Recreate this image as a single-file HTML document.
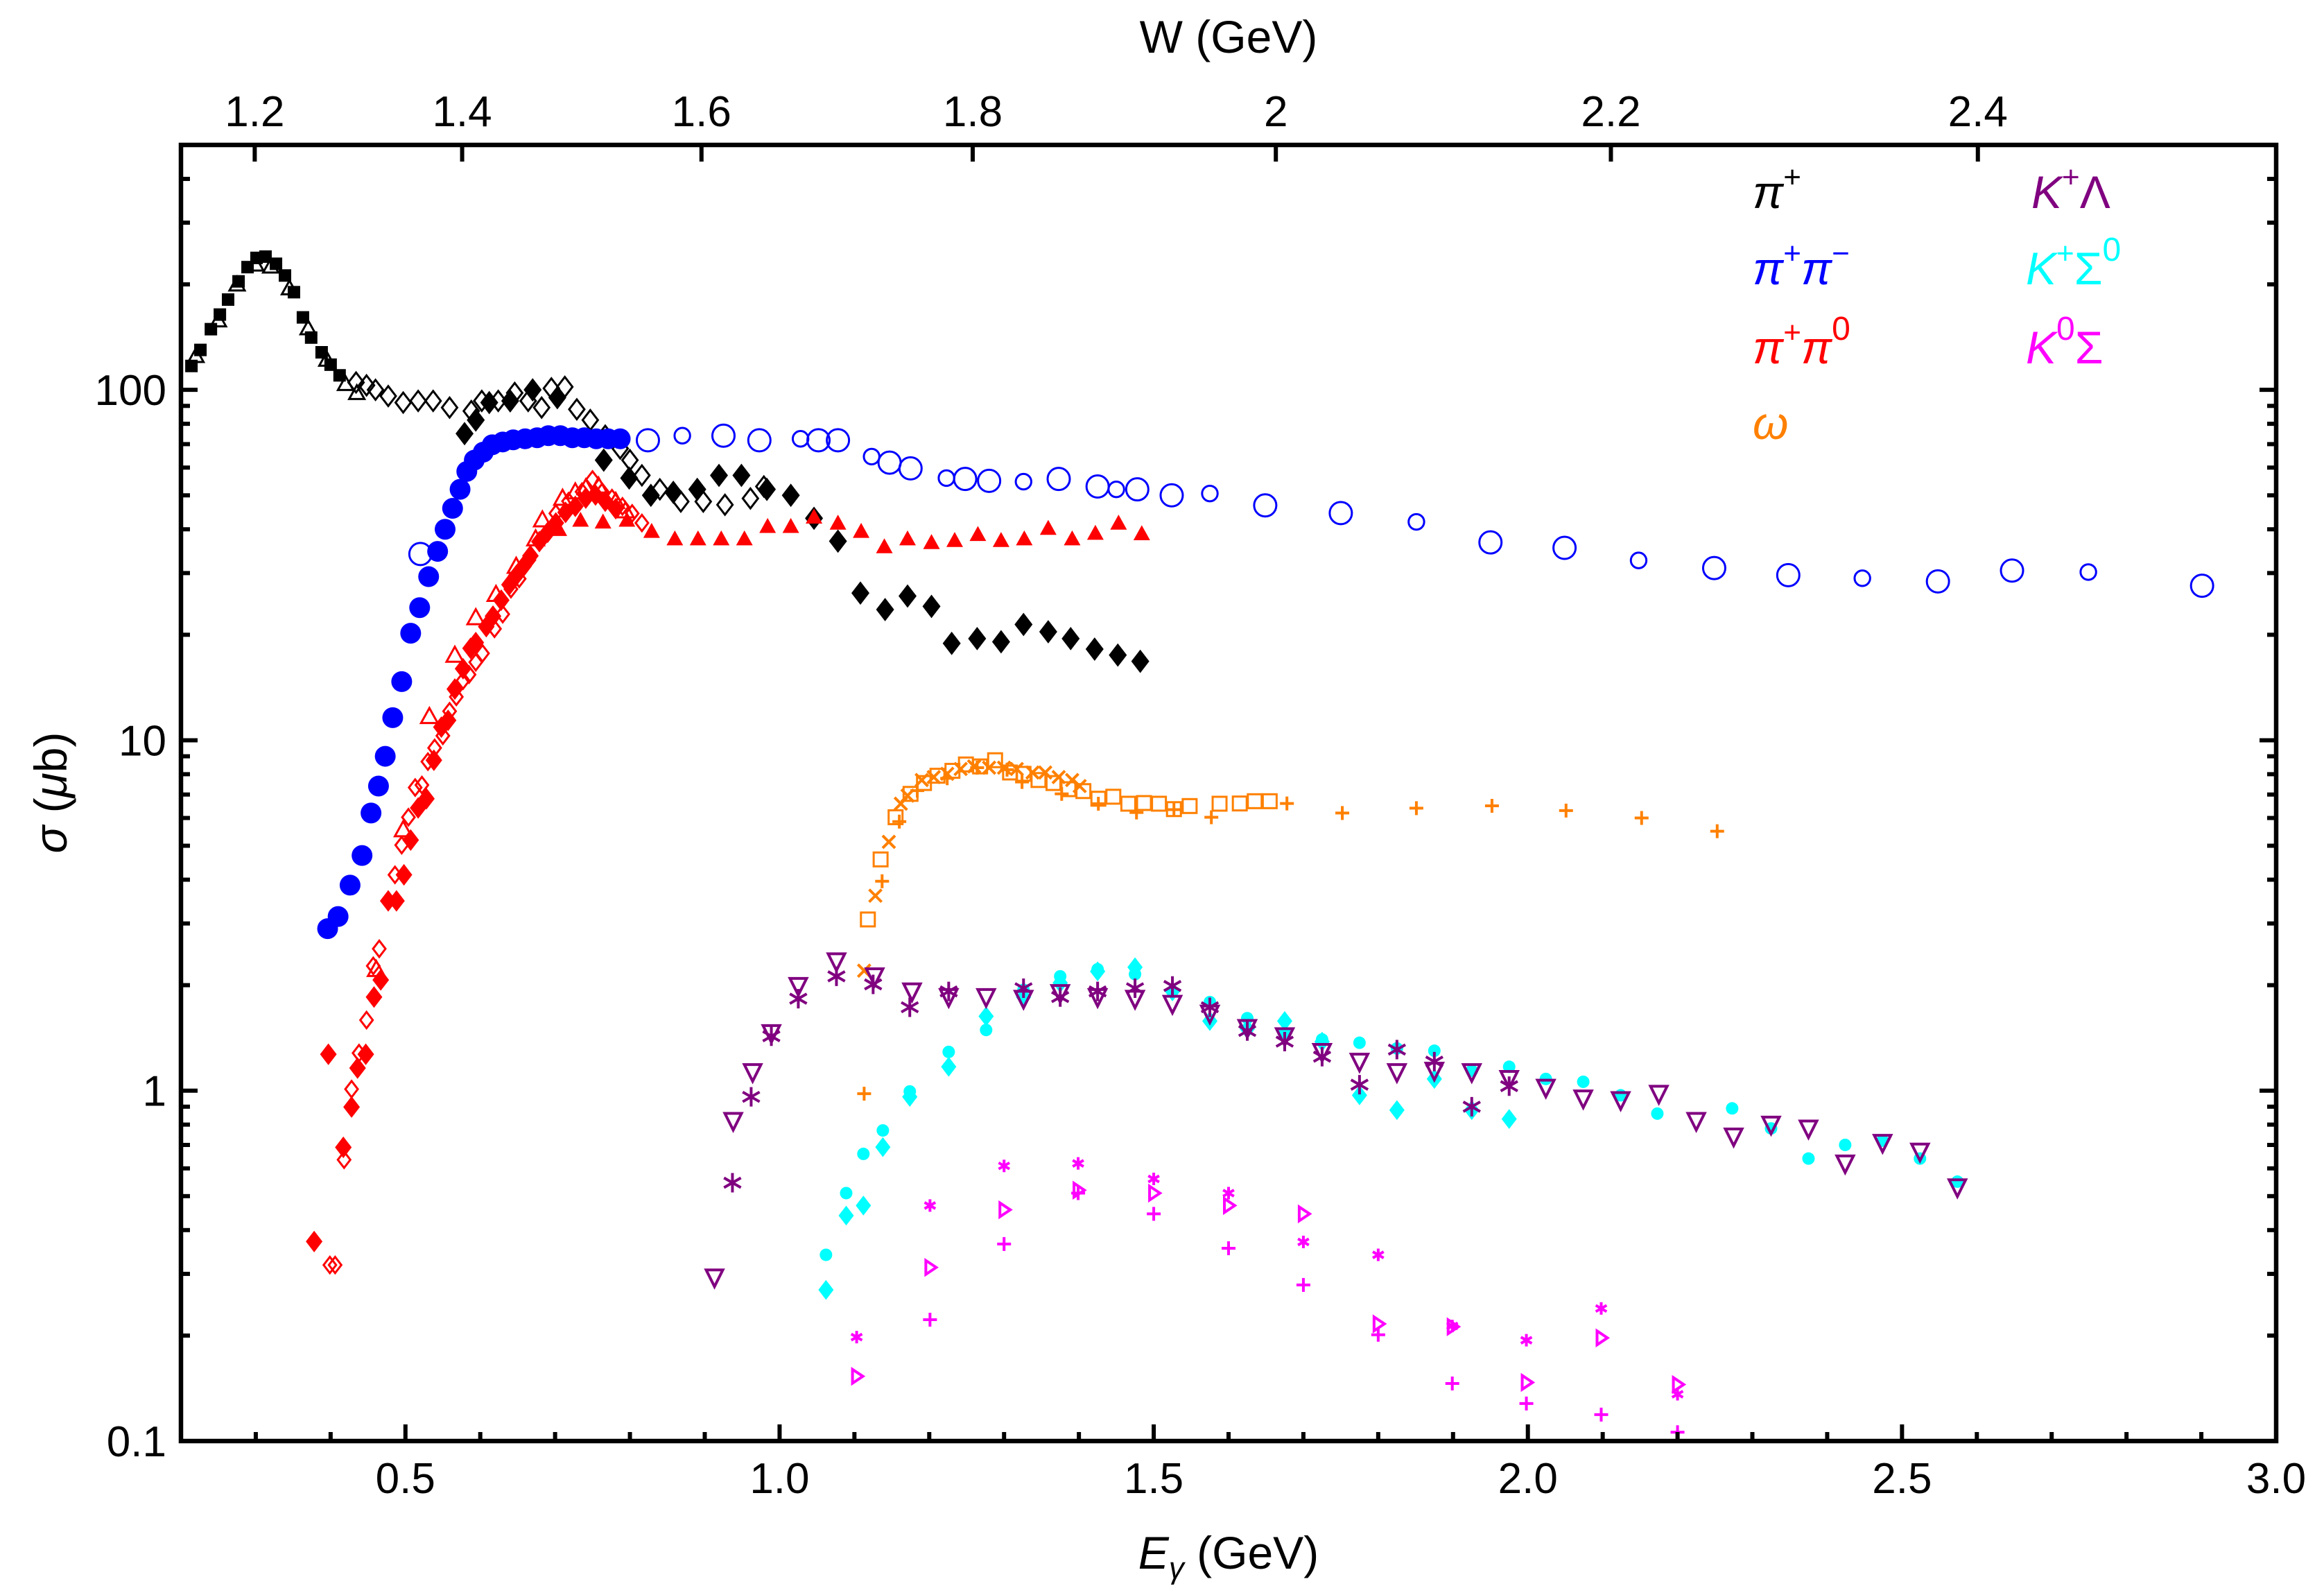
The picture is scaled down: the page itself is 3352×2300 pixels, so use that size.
<!DOCTYPE html>
<html><head><meta charset="utf-8"><style>
html,body{margin:0;padding:0;background:#fff;}
svg{display:block;font-family:"Liberation Sans",sans-serif;}
</style></head>
<body>
<svg id="chart" xmlns="http://www.w3.org/2000/svg" width="3352" height="2300" viewBox="0 0 3352 2300">
<rect x="0" y="0" width="3352" height="2300" fill="#fff"/>
<g id="marks"></g>
<g id="axes"></g>
<g id="legend" font-size="66" font-style="italic">
  <text x="2528" y="300" fill="#000">π<tspan dy="-30" font-size="44" font-style="normal">+</tspan></text>
  <text x="2528" y="410" fill="#0000ff">π<tspan dy="-30" font-size="44" font-style="normal">+</tspan><tspan dy="30">π</tspan><tspan dy="-30" font-size="44" font-style="normal">−</tspan></text>
  <text x="2528" y="524" fill="#ff0000">π<tspan dy="-30" font-size="44" font-style="normal">+</tspan><tspan dy="30">π</tspan><tspan dy="-34" font-size="48" font-style="normal">0</tspan></text>
  <text x="2528" y="633" fill="#ff8000">ω</text>
  <text x="2930" y="300" fill="#800080">K<tspan dy="-30" font-size="44" font-style="normal">+</tspan><tspan dy="30" font-style="normal">Λ</tspan></text>
  <text x="2922" y="410" fill="#00ffff">K<tspan dy="-30" font-size="44" font-style="normal">+</tspan><tspan dy="30" font-style="normal">Σ</tspan><tspan dy="-34" font-size="48" font-style="normal">0</tspan></text>
  <text x="2922" y="524" fill="#ff00ff">K<tspan dy="-34" font-size="48" font-style="normal">0</tspan><tspan dy="34" font-style="normal">Σ</tspan></text>
</g>
<text x="1772" y="2262" font-size="66" text-anchor="middle"><tspan font-style="italic">E</tspan><tspan font-style="italic" font-size="44" dy="14">γ</tspan><tspan dy="-14"> (GeV)</tspan></text>
<text x="1772" y="76" font-size="66" text-anchor="middle">W (GeV)</text>
<text transform="translate(96,1143) rotate(-90)" font-size="66" text-anchor="middle"><tspan font-style="italic">σ</tspan> (<tspan font-style="italic">μ</tspan>b)</text>
</svg>
<script>
// ---------- data ----------
const piPlusSqE = [0.214,0.226,0.240,0.252,0.263,0.277,0.289,0.301,0.313,0.327,0.339,0.351,0.363,0.374,0.388,0.400,0.412];
const piPlusSqS = [117,130,149,164,181,204,224,238,240,229,212,190,161,141,128,118,110];
const piPlusTriE = [0.22,0.25,0.275,0.30,0.32,0.345,0.37,0.395,0.42,0.435];
const piPlusTriS = [125,158,200,228,225,195,150,122,104,98];
const piPlusODiaE = [0.434,0.448,0.460,0.477,0.497,0.517,0.537,0.559,0.588,0.602,0.624,0.646,0.664,0.682,0.695,0.713,0.729,0.747,0.767,0.787,0.800,0.816,0.840,0.868,0.898,0.927,0.961,0.979];
const piPlusODiaS = [105,103,100,96,92,93,93,89,87,93,93,98,93,89,101,102,88,82,74,68,63,57,52,48,48,47,49,53];
const piPlusFDiaE = [0.579,0.594,0.612,0.640,0.670,0.703,0.765,0.799,0.828,0.858,0.890,0.919,0.949,0.983,1.015,1.046,1.078,1.108,1.141,1.171,1.203,1.230,1.264,1.296,1.326,1.359,1.389,1.421,1.452,1.482];
const piPlusFDiaS = [75,82,92,93,100,95,63,56,50,51,52,57,57,52,50,43,37,26.3,23.6,25.8,24.1,18.9,19.5,19.1,21.4,20.4,19.5,18.2,17.5,16.8];

const pipiFCircE = [0.396,0.410,0.426,0.442,0.454,0.464,0.473,0.483,0.495,0.507,0.519,0.531,0.543,0.553,0.563,0.573,0.582,0.592,0.604,0.616,0.630,0.644,0.660,0.676,0.691,0.707,0.723,0.739,0.755,0.771,0.787];
const pipiFCircS = [2.9,3.14,3.86,4.69,6.2,7.4,9.0,11.6,14.7,20.2,23.9,29.3,34.6,40,45.9,52,58.5,63,66.4,69.7,71,72,72.5,73,74,74,73,73,72.5,72.5,72.5];
const pipiOCircE = [0.824,0.870,0.925,0.973,1.028,1.052,1.078,1.123,1.147,1.175,1.223,1.248,1.280,1.326,1.373,1.425,1.450,1.478,1.524,1.575,1.649,1.750,1.851,1.950,2.049,2.148,2.249,2.348,2.447,2.548,2.647,2.749,2.901,0.52];
const pipiOCircS = [71.8,74,74,71.8,72.5,71.8,71.8,64.5,62,59.7,56,55.7,55,54.7,55.7,53,52,52,50,50.6,46.8,44.5,42,36.7,35.4,32.6,31,29.6,29,28.4,30.5,30.2,27.6,34];

const pi0FTriE = [0.705,0.734,0.764,0.796,0.829,0.860,0.891,0.922,0.953,0.984,1.015,1.046,1.078,1.109,1.140,1.171,1.203,1.234,1.265,1.296,1.327,1.359,1.391,1.422,1.453,1.484];
const pi0FTriS = [40.0,42.5,42.0,42.5,39.5,37.6,37.6,37.6,37.6,40.8,40.8,43.4,41.7,39.5,35.7,37.6,36.7,37.2,38.7,37.2,37.6,40.3,37.6,39.0,41.7,38.9];
const pi0FDiaE = [0.378,0.397,0.417,0.428,0.436,0.447,0.458,0.467,0.477,0.488,0.498,0.507,0.517,0.528,0.538,0.548,0.557,0.566,0.577,0.587,0.594,0.608,0.617,0.628,0.639,0.648,0.658,0.667,0.679,0.690,0.701,0.714,0.727,0.741,0.754,0.767,0.781];
const pi0FDiaS = [0.371,1.27,0.689,0.898,1.16,1.27,1.85,2.07,3.48,3.48,4.13,5.19,6.41,6.81,8.77,10.9,11.4,14.0,16.0,18.3,19.0,21.1,22.6,25.1,27.8,29.5,31.4,33.6,36.9,39.2,41.7,44.7,46.5,49.1,50.1,48.1,45.8];
const pi0ODiaE = [0.399,0.406,0.418,0.428,0.438,0.448,0.457,0.465,0.486,0.495,0.504,0.513,0.522,0.530,0.539,0.550,0.559,0.568,0.577,0.585,0.594,0.603,0.619,0.630,0.641,0.652,0.665,0.683,0.701,0.718,0.736,0.750,0.763,0.776,0.790,0.803,0.816];
const pi0ODiaS = [0.318,0.318,0.635,1.01,1.28,1.59,2.27,2.54,4.13,5.02,6.03,7.33,7.45,8.69,9.51,10.3,12.1,13.3,14.8,15.4,16.7,17.7,20.8,22.9,27.0,28.9,32.7,37.6,44.4,48.1,51.2,55.5,51.2,49.1,46.5,44.4,41.7];
const pi0OTriE = [0.461,0.497,0.532,0.566,0.594,0.621,0.648,0.674,0.683,0.710,0.727,0.741,0.758,0.781,0.794];
const pi0OTriS = [2.22,5.56,11.7,17.5,22.4,26.1,31.4,37.6,42.6,49.1,51.2,52.6,53.2,48.1,45.2];

const omegaSqE = [1.118,1.135,1.155,1.175,1.193,1.211,1.231,1.249,1.268,1.288,1.308,1.326,1.346,1.366,1.386,1.406,1.426,1.446,1.466,1.487,1.507,1.527,1.548,1.588,1.615,1.635,1.655];
const omegaSqS = [3.08,4.57,6.03,7.03,7.55,7.92,8.18,8.53,8.42,8.77,8.09,8.02,7.70,7.55,7.25,7.16,6.81,6.90,6.59,6.62,6.59,6.36,6.49,6.59,6.6,6.7,6.7];
const omegaXE = [1.113,1.128,1.146,1.162,1.171,1.190,1.206,1.224,1.242,1.260,1.280,1.300,1.317,1.338,1.355,1.373,1.391,1.401];
const omegaXS = [2.2,3.60,5.13,6.59,6.95,7.70,7.85,8.02,8.28,8.42,8.35,8.35,8.28,8.09,8.09,7.85,7.70,7.40];
const omegaPlusE = [1.113,1.137,1.160,1.184,1.224,1.264,1.304,1.324,1.377,1.426,1.477,1.527,1.577,1.678,1.752,1.851,1.952,2.051,2.152,2.253];
const omegaPlusS = [0.98,3.96,5.86,7.18,7.79,8.35,8.24,7.60,7.03,6.59,6.22,6.34,6.03,6.6,6.2,6.4,6.5,6.3,6.0,5.5];

const klTriE = [0.913,0.938,0.964,0.989,1.025,1.076,1.127,1.177,1.226,1.276,1.326,1.375,1.425,1.475,1.525,1.575,1.625,1.675,1.725,1.775,1.825,1.875,1.925,1.975,2.024,2.074,2.124,2.175,2.225,2.275,2.325,2.375,2.424,2.474,2.524,2.574];
const klTriS = [0.293,0.82,1.13,1.46,1.99,2.34,2.12,1.92,1.85,1.85,1.83,1.90,1.85,1.83,1.77,1.66,1.51,1.43,1.29,1.21,1.13,1.14,1.13,1.08,1.02,0.95,0.94,0.98,0.82,0.74,0.80,0.78,0.62,0.71,0.67,0.53];
const klAstE = [0.937,0.962,0.989,1.025,1.076,1.125,1.174,1.226,1.326,1.375,1.425,1.475,1.525,1.575,1.625,1.675,1.725,1.775,1.825,1.875,1.925,1.975];
const klAstS = [0.546,0.96,1.43,1.83,2.12,2.01,1.73,1.92,1.96,1.85,1.92,1.96,1.99,1.73,1.48,1.38,1.25,1.04,1.31,1.21,0.90,1.03];

const ksCircE = [1.062,1.089,1.112,1.138,1.174,1.226,1.276,1.326,1.375,1.425,1.475,1.525,1.575,1.625,1.675,1.725,1.775,1.825,1.875,1.925,1.975,2.024,2.074,2.124,2.173,2.273,2.325,2.375,2.424,2.474,2.524,2.574];
const ksCircS = [0.340,0.51,0.66,0.77,0.995,1.29,1.49,1.94,2.12,2.22,2.15,1.92,1.79,1.61,1.46,1.40,1.37,1.32,1.30,1.14,1.17,1.08,1.06,0.97,0.86,0.89,0.78,0.64,0.70,0.72,0.64,0.55];
const ksDiaE = [1.062,1.089,1.112,1.138,1.174,1.226,1.276,1.326,1.375,1.425,1.475,1.525,1.575,1.625,1.675,1.725,1.775,1.825,1.875,1.925,1.975];
const ksDiaS = [0.27,0.44,0.47,0.69,0.96,1.17,1.63,1.85,2.03,2.19,2.25,1.92,1.58,1.50,1.58,1.38,0.97,0.88,1.08,0.88,0.83];

const k0StarE = [1.103,1.201,1.300,1.399,1.500,1.600,1.700,1.800,1.899,1.998,2.098,2.200];
const k0StarS = [0.198,0.47,0.61,0.62,0.56,0.51,0.37,0.34,0.213,0.194,0.239,0.136];
const k0RTriE = [1.103,1.201,1.300,1.399,1.500,1.600,1.700,1.800,1.899,1.998,2.098,2.200];
const k0RTriS = [0.153,0.313,0.457,0.52,0.51,0.47,0.445,0.216,0.212,0.147,0.197,0.145];
const k0PlusE = [1.201,1.300,1.399,1.500,1.600,1.700,1.800,1.899,1.998,2.098,2.200];
const k0PlusS = [0.222,0.365,0.51,0.445,0.355,0.279,0.201,0.146,0.128,0.119,0.106];

const xTickVals = [0.5,1.0,1.5,2.0,2.5,3.0];
const xTickLabels = ["0.5","1.0","1.5","2.0","2.5","3.0"];
const yTickVals = [0.1,1,10,100];
const yTickLabels = ["0.1","1","10","100"];
const wTickVals = [1.2,1.4,1.6,1.8,2.0,2.2,2.4];
const wTickLabels = ["1.2","1.4","1.6","1.8","2","2.2","2.4"];

// ---------- scales ----------
const L = 261, R = 3283, T = 209, B = 2078;
const xMin = 0.2, xMax = 3.0, yMin = 0.1, yMax = 500;
const MP = 0.938;
function X(e){ return L + (e - xMin) / (xMax - xMin) * (R - L); }
function Y(s){ return B - (Math.log10(s) - Math.log10(yMin)) / (Math.log10(yMax) - Math.log10(yMin)) * (B - T); }
function EofW(w){ return (w*w - MP*MP) / (2*MP); }

const NS = "http://www.w3.org/2000/svg";
const marks = document.getElementById('marks');
const axes = document.getElementById('axes');
function mk(tag, attrs, parent){
  const el = document.createElementNS(NS, tag);
  for (const k in attrs) el.setAttribute(k, attrs[k]);
  parent.appendChild(el);
  return el;
}

function drawMarker(type, cx, cy, color, s, parent){
  let el;
  const sw = 3;
  if (type === 'fsq') el = mk('rect', {x:cx-s, y:cy-s, width:2*s, height:2*s, fill:color}, parent);
  else if (type === 'osq') el = mk('rect', {x:cx-s, y:cy-s, width:2*s, height:2*s, fill:'none', stroke:color, 'stroke-width':sw}, parent);
  else if (type === 'fcirc') el = mk('circle', {cx:cx, cy:cy, r:s, fill:color}, parent);
  else if (type === 'ocirc') el = mk('circle', {cx:cx, cy:cy, r:s, fill:'none', stroke:color, 'stroke-width':sw}, parent);
  else if (type === 'fdia') el = mk('polygon', {points:`${cx},${cy-s*1.3} ${cx+s},${cy} ${cx},${cy+s*1.3} ${cx-s},${cy}`, fill:color}, parent);
  else if (type === 'odia') el = mk('polygon', {points:`${cx},${cy-s*1.3} ${cx+s},${cy} ${cx},${cy+s*1.3} ${cx-s},${cy}`, fill:'none', stroke:color, 'stroke-width':sw}, parent);
  else if (type === 'ftri') el = mk('polygon', {points:`${cx},${cy-s} ${cx+s},${cy+s*0.8} ${cx-s},${cy+s*0.8}`, fill:color}, parent);
  else if (type === 'otri') el = mk('polygon', {points:`${cx},${cy-s} ${cx+s},${cy+s*0.8} ${cx-s},${cy+s*0.8}`, fill:'none', stroke:color, 'stroke-width':sw}, parent);
  else if (type === 'dtri') el = mk('polygon', {points:`${cx-s},${cy-s*0.9} ${cx+s},${cy-s*0.9} ${cx},${cy+s*1.1}`, fill:'none', stroke:color, 'stroke-width':4}, parent);
  else if (type === 'rtri') el = mk('polygon', {points:`${cx-s*0.6},${cy-s} ${cx+s*0.9},${cy} ${cx-s*0.6},${cy+s}`, fill:'none', stroke:color, 'stroke-width':4}, parent);
  else if (type === 'x') el = mk('path', {d:`M${cx-s},${cy-s}L${cx+s},${cy+s}M${cx-s},${cy+s}L${cx+s},${cy-s}`, stroke:color, 'stroke-width':4, fill:'none'}, parent);
  else if (type === 'plus') el = mk('path', {d:`M${cx-s},${cy}L${cx+s},${cy}M${cx},${cy-s}L${cx},${cy+s}`, stroke:color, 'stroke-width':4, fill:'none'}, parent);
  else if (type === 'ast' || type === 'star') {
    const a = s, h = s*0.87, k = s*0.5;
    el = mk('path', {d:`M${cx},${cy-a}L${cx},${cy+a}M${cx-h},${cy-k}L${cx+h},${cy+k}M${cx-h},${cy+k}L${cx+h},${cy-k}`, stroke:color, 'stroke-width':4, fill:'none'}, parent);
  }
  return el;
}

function drawSeries(name, es, ss, type, color, size){
  const g = mk('g', {}, marks);
  
  
  for (let i = 0; i < es.length; i++){
    let s = size;
    if (type === 'ocirc') s = (i % 3 === 1) ? size * 0.7 : size;
    const el = drawMarker(type, X(es[i]), Y(ss[i]), color, s, g);
    
    
  }
}

drawSeries('pi-plus-squares', piPlusSqE, piPlusSqS, 'fsq', '#000', 9);
drawSeries('pi-plus-open-triangles', piPlusTriE, piPlusTriS, 'otri', '#000', 11);
drawSeries('pi-plus-open-diamonds', piPlusODiaE, piPlusODiaS, 'odia', '#000', 11);
drawSeries('pi-plus-filled-diamonds', piPlusFDiaE, piPlusFDiaS, 'fdia', '#000', 13);
drawSeries('pipi-open-circles', pipiOCircE, pipiOCircS, 'ocirc', '#0000ff', 16);
drawSeries('pipi-filled-circles', pipiFCircE, pipiFCircS, 'fcirc', '#0000ff', 15);
drawSeries('pi0-filled-triangles', pi0FTriE, pi0FTriS, 'ftri', '#ff0000', 12);
drawSeries('pi0-open-triangles', pi0OTriE, pi0OTriS, 'otri', '#ff0000', 12);
drawSeries('pi0-open-diamonds', pi0ODiaE, pi0ODiaS, 'odia', '#ff0000', 9);
drawSeries('pi0-filled-diamonds', pi0FDiaE, pi0FDiaS, 'fdia', '#ff0000', 12);
drawSeries('omega-squares', omegaSqE, omegaSqS, 'osq', '#ff8000', 10);
drawSeries('omega-crosses', omegaXE, omegaXS, 'x', '#ff8000', 9);
drawSeries('omega-plus', omegaPlusE, omegaPlusS, 'plus', '#ff8000', 10);
drawSeries('ks-circles', ksCircE, ksCircS, 'fcirc', '#00ffff', 9);
drawSeries('ks-diamonds', ksDiaE, ksDiaS, 'fdia', '#00ffff', 11);
drawSeries('kl-triangles', klTriE, klTriS, 'dtri', '#800080', 12);
drawSeries('kl-asterisks', klAstE, klAstS, 'ast', '#800080', 14);
drawSeries('k0-stars', k0StarE, k0StarS, 'star', '#ff00ff', 9);
drawSeries('k0-right-triangles', k0RTriE, k0RTriS, 'rtri', '#ff00ff', 10);
drawSeries('k0-plus', k0PlusE, k0PlusS, 'plus', '#ff00ff', 10);

// ---------- axes ----------
const frame = mk('rect', {x:L, y:T, width:R-L, height:B-T, fill:'none', stroke:'#000', 'stroke-width':6.5}, axes);



for (let v = 0.3; v <= 2.95; v += 0.1){
  const vv = Math.round(v*10)/10;
  const major = Math.abs(vv*2 - Math.round(vv*2)) < 1e-6;
  const len = major ? 24 : 13;
  const t = mk('line', {x1:X(vv), x2:X(vv), y1:B, y2:B-len, stroke:'#000', 'stroke-width':6}, axes);
  
  
}
xTickVals.forEach((v,i)=>{
  const t = mk('text', {x:X(v), y:2153, 'font-size':62, 'text-anchor':'middle'}, axes);
  t.textContent = xTickLabels[i];
  
  
});
wTickVals.forEach((w,i)=>{
  const x = X(EofW(w));
  const l = mk('line', {x1:x, x2:x, y1:T, y2:T+24, stroke:'#000', 'stroke-width':6}, axes);
  
  
  const t = mk('text', {x:x, y:182, 'font-size':62, 'text-anchor':'middle'}, axes);
  t.textContent = wTickLabels[i];
  
  
});
for (let d = -1; d <= 2; d++){
  for (let m = 1; m <= 9; m++){
    const v = m * Math.pow(10, d);
    if (v > yMax) continue;
    const len = m === 1 ? 24 : 13;
    const y = Y(v);
    const a = mk('line', {x1:L, x2:L+len, y1:y, y2:y, stroke:'#000', 'stroke-width':6}, axes);
    
    
    const b = mk('line', {x1:R, x2:R-len, y1:y, y2:y, stroke:'#000', 'stroke-width':6}, axes);
    
    
  }
}
yTickVals.forEach((v,i)=>{
  const t = mk('text', {x:240, y:Y(v)+22, 'font-size':62, 'text-anchor':'end'}, axes);
  t.textContent = yTickLabels[i];
  
  
});
</script>
</body></html>
